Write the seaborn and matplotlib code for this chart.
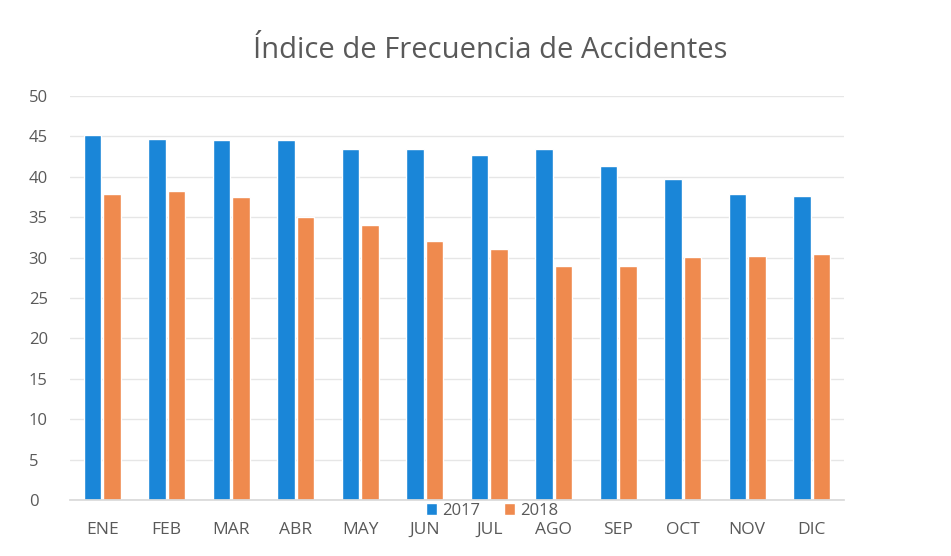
import matplotlib
matplotlib.use("Agg")
import matplotlib.pyplot as plt
import seaborn as sns
import pandas as pd

months = ["ENE", "FEB", "MAR", "ABR", "MAY", "JUN", "JUL", "AGO", "SEP", "OCT", "NOV", "DIC"]
vals_2017 = [45.2, 44.7, 44.5, 44.5, 43.4, 43.5, 42.7, 43.5, 41.3, 39.7, 37.9, 37.6]
vals_2018 = [37.9, 38.2, 37.5, 35.0, 34.0, 32.1, 31.1, 29.0, 29.0, 30.1, 30.2, 30.5]
series = ["2017", "2018"]
colors = ["#1a86d8", "#ef8a4e"]

df = pd.DataFrame({
    "mes": months * 2,
    "valor": vals_2017 + vals_2018,
    "serie": [series[0]] * len(months) + [series[1]] * len(months),
})

sns.set_theme(style="white")
plt.rcParams["font.family"] = ["Open Sans", "DejaVu Sans"]

fig = plt.figure(figsize=(9.51, 5.56), dpi=100)
ax = fig.add_axes([70 / 951, 1 - 500 / 556, (844 - 70) / 951, (500 - 96) / 556])

sns.barplot(data=df, x="mes", y="valor", hue="serie", order=months, hue_order=series,
            palette=colors, width=0.6, gap=0.1, saturation=1, ax=ax, legend=True)

ax.set_ylim(0, 50)
ax.set_yticks(range(0, 51, 5))
ax.yaxis.grid(True, color="#e6e6e6", linewidth=1)
ax.set_axisbelow(True)
for s in ["top", "right", "left"]:
    ax.spines[s].set_visible(False)
ax.spines["bottom"].set_color("#d9d9d9")
ax.set_xlabel("")
ax.set_ylabel("")
ax.tick_params(axis="x", length=0, labelsize=12.5, colors="#595959", pad=16)
ax.tick_params(axis="y", length=0, labelsize=12, colors="#595959", pad=40)
for lbl in ax.get_yticklabels():
    lbl.set_horizontalalignment("left")
    lbl.set_x(-0.001 + 15 / 774)

ax.legend_.remove()
handles, labels = ax.get_legend_handles_labels()
fig.legend(handles, labels, loc="center", bbox_to_anchor=(492 / 951, 1 - 511 / 556), ncol=2,
           frameon=False, fontsize=12, handlelength=0.7, handleheight=0.7,
           columnspacing=1.4, handletextpad=0.3, labelcolor="#595959",
           borderpad=0, borderaxespad=0)

fig.text(490 / 951, 1 - 50 / 556, "Índice de Frecuencia de Accidentes", ha="center", va="center",
         fontsize=21, color="#595959")

fig.savefig("out.png", dpi=100, facecolor="white")
